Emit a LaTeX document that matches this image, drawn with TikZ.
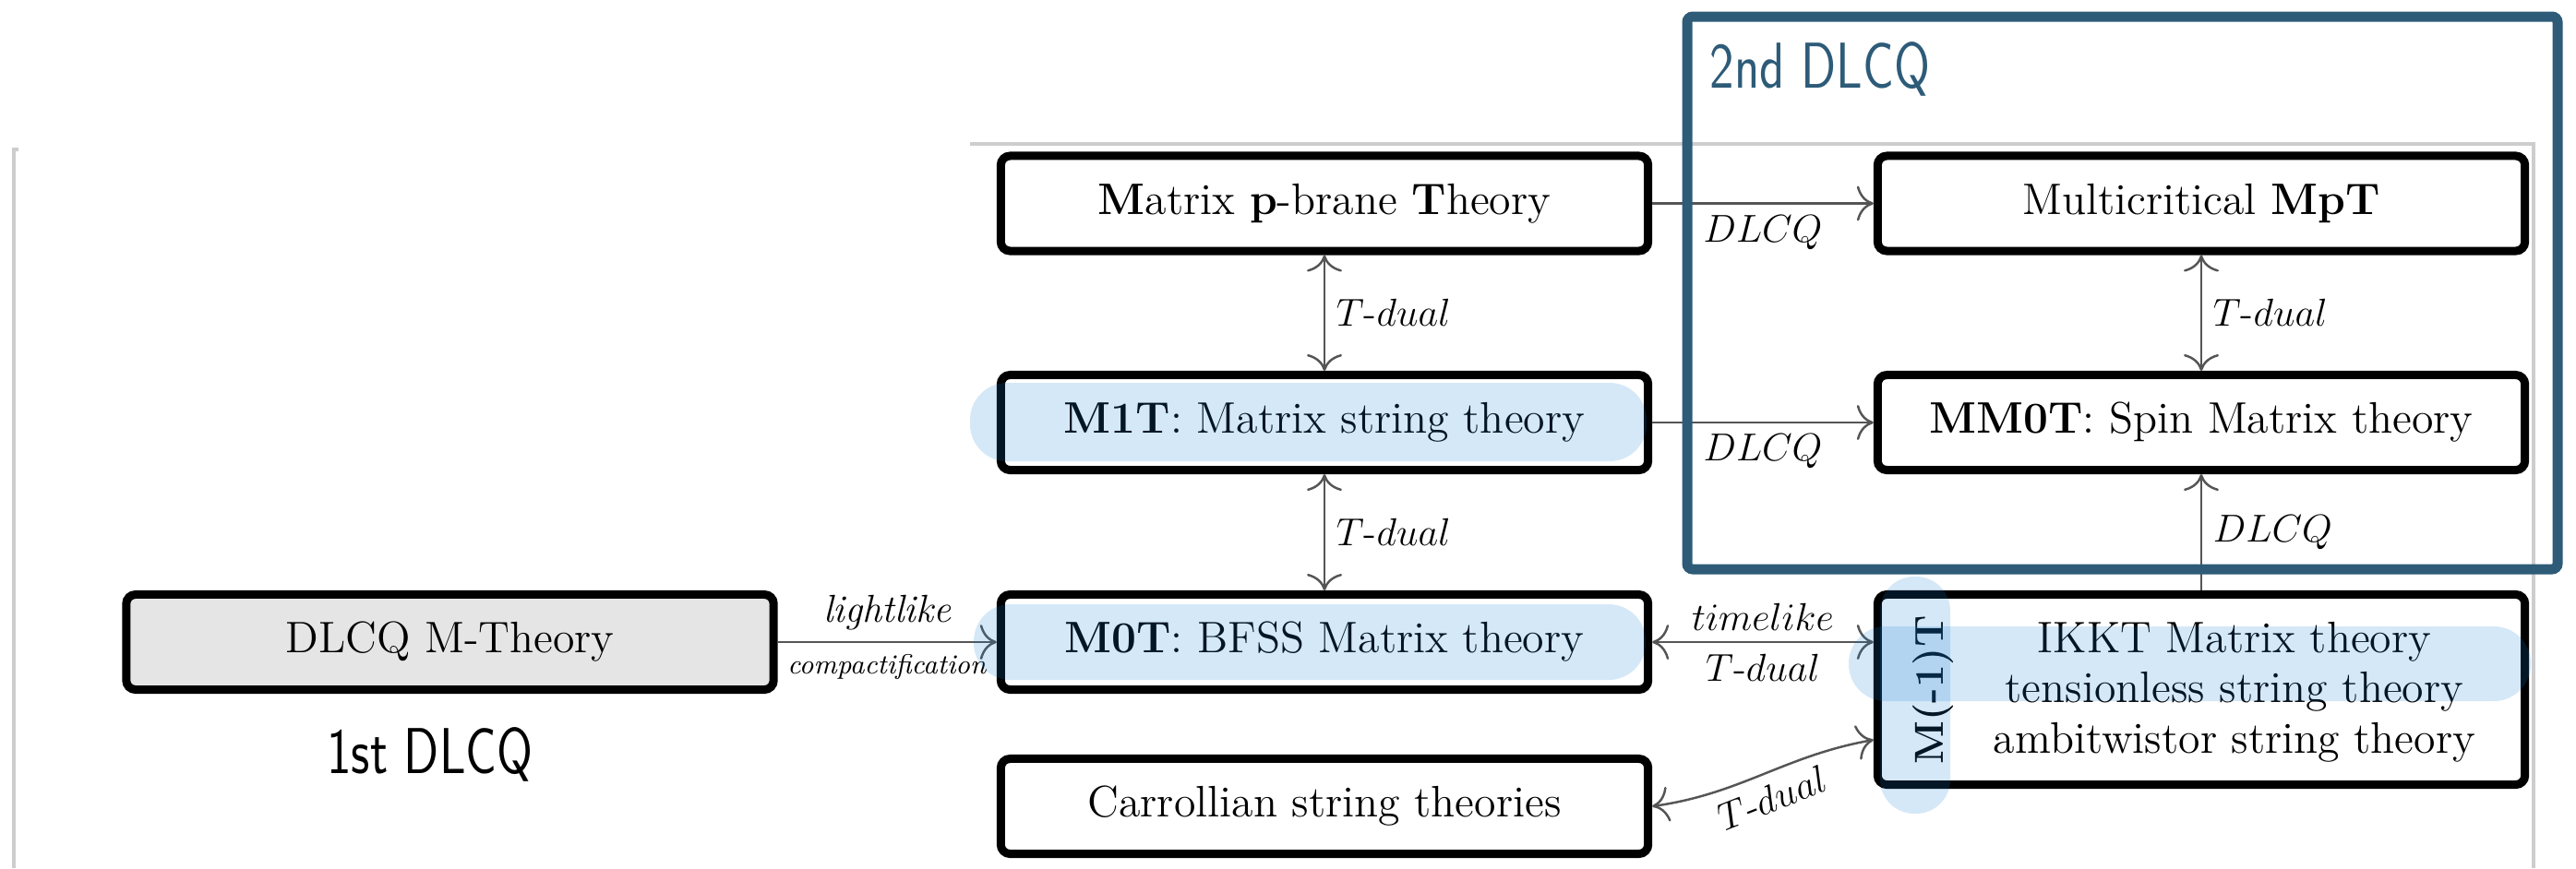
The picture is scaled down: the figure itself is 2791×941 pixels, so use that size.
\documentclass[tikz,border=0pt]{standalone}
\usepackage{fontspec}
\usetikzlibrary{arrows.meta}
\definecolor{frameblue}{RGB}{45,91,120}
\definecolor{hlblue}{RGB}{20,125,210}
\definecolor{boxgray}{RGB}{229,229,229}
\definecolor{arrgray}{RGB}{85,85,85}
\definecolor{pagegray}{RGB}{205,205,205}
\tikzset{
  thbox/.style={draw, line width=0.09cm, rounded corners=0.1cm, minimum width=7.01cm,
    minimum height=1.03cm, inner sep=0pt, font=\fontsize{13.6}{16}\selectfont},
  tip/.tip={To[length=0.18cm,width=0.38cm]},
  arr/.style={draw=arrgray, line width=0.7pt, -tip},
  biarr/.style={draw=arrgray, line width=0.7pt, tip-tip},
  lab/.style={font=\fontsize{12}{14}\selectfont, text=black},
  smlab/.style={font=\fontsize{8.5}{10}\selectfont, text=black},
  hl/.style={fill=hlblue, fill opacity=0.18},
  hand/.style={font=\sffamily\fontsize{20}{24}\selectfont, xscale=0.8}
}
\begin{document}
\begin{tikzpicture}[x=0.01cm, y=-0.01cm]
\useasboundingbox (0,0) rectangle (2791,941);
% faint page edges
\draw[pagegray, line width=1.2pt] (20,162) -- (15,162) -- (15,941);
\draw[pagegray, line width=1.2pt] (1051,156) -- (2745,156) -- (2745,941);

% boxes
\node[thbox, fill=boxgray] (dlcq) at (487.5,696) {DLCQ M-Theory};
\node[thbox] (pb) at (1435,220.5) {\textbf{M}atrix \textbf{p}-brane \textbf{T}heory};
\node[thbox] (m1t) at (1435,458) {\textbf{M1T}: Matrix string theory};
\node[thbox] (m0t) at (1435,696) {\textbf{M0T}: BFSS Matrix theory};
\node[thbox] (car) at (1435,874) {Carrollian string theories};
\node[thbox] (mc) at (2385,220.5) {Multicritical \textbf{MpT}};
\node[thbox] (mm0t) at (2385,458) {\textbf{MM0T}: Spin Matrix theory};
\node[thbox, minimum height=2.06cm] (ikkt) at (2385,747.5) {};
\node[rotate=90, font=\bfseries\fontsize{12.5}{15}\selectfont] (mm1t) at (2095,748) {M(-1)T};
\node[align=center, font=\fontsize{13.6}{15.5}\selectfont] (ikkttxt) at (2421,750)
  {IKKT Matrix theory\\tensionless string theory\\ambitwistor string theory};

% connectors
\draw[arr] (dlcq.east) -- node[lab, above] {\textit{lightlike}} node[smlab, below] {\textit{compactification}} (m0t.west);
\draw[arr] (pb.east) -- node[lab, below] {$DLCQ$} (mc.west);
\draw[arr] (m1t.east) -- node[lab, below] {$DLCQ$} (mm0t.west);
\draw[biarr] (pb.south) -- node[lab, right] {$T$-$dual$} (m1t.north);
\draw[biarr] (m1t.south) -- node[lab, right] {$T$-$dual$} (m0t.north);
\draw[biarr] (mc.south) -- node[lab, right] {$T$-$dual$} (mm0t.north);
\draw[arr] (ikkt.north) -- node[lab, right] {$DLCQ$} (mm0t.south);
\draw[biarr] (m0t.east) -- node[lab, above] {$timelike$} node[lab, below] {$T$-$dual$} (m0t.east -| ikkt.west);
\coordinate (ikktin) at ([yshift=-0.545cm]ikkt.west);
\draw[biarr] (car.east) to[out=8, in=190] node[lab, below, sloped, midway] {$T$-$dual$} (ikktin);

% highlights
\fill[hl, rounded corners=0.4cm] (1051,415) rectangle (1784,500);
\fill[hl, rounded corners=0.4cm] (1055,655) rectangle (1783,737);
\fill[hl, rounded corners=0.4cm] (2003,679) rectangle (2742,760);
\fill[hl, rounded corners=0.37cm] (2037,625) rectangle (2113,882);

% second DLCQ frame
\draw[frameblue, line width=0.11cm, rounded corners=0.06cm] (1828,18) rectangle (2771,617);
\node[hand, text=frameblue] (second) at (1972,75) {2nd DLCQ};
\node[hand, text=black] (first) at (466,818) {1st DLCQ};
\end{tikzpicture}
\end{document}
